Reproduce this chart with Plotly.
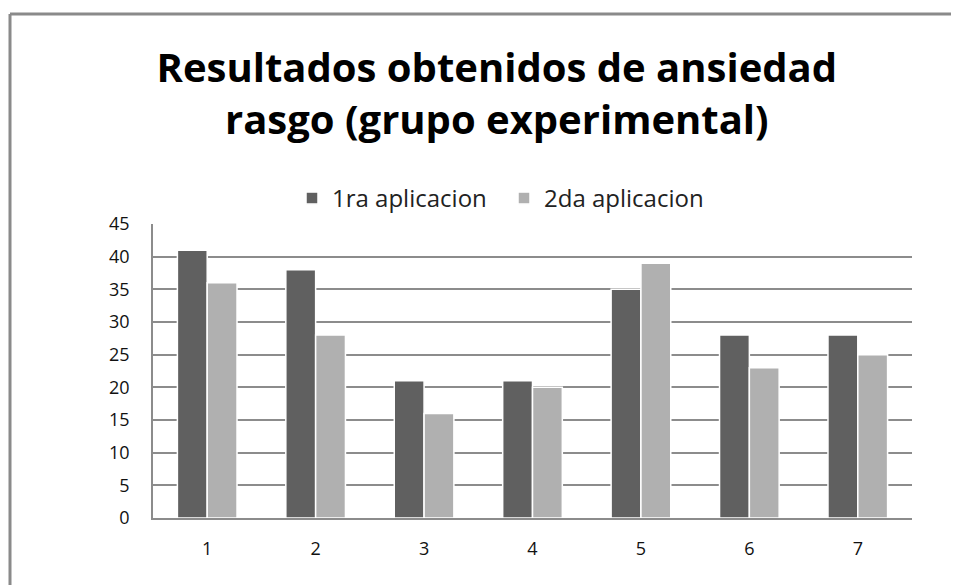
import plotly.graph_objects as go

categories = ["1", "2", "3", "4", "5", "6", "7"]
primera = [41, 38, 21, 21, 35, 28, 28]
segunda = [36, 28, 16, 20, 39, 23, 25]
series_names = ["1ra aplicacion", "2da aplicacion"]
y_ticks = [0, 5, 10, 15, 20, 25, 30, 35, 40, 45]
title_text = "Resultados obtenidos de ansiedad<br>rasgo (grupo experimental)"

# page body has an 8px margin, so the figure is drawn 8px in from the window edge
W, H = 951, 577
ML, MR, MT, MB = 145, 47, 216, 67
FONT = "Open Sans"

fig = go.Figure()
fig.add_trace(go.Bar(x=categories, y=primera, name=series_names[0],
                     marker=dict(color="#606060", line=dict(color="white", width=1.5))))
fig.add_trace(go.Bar(x=categories, y=segunda, name=series_names[1],
                     marker=dict(color="#b0b0b0", line=dict(color="white", width=1.5))))

pw = W - ML - MR
ph = H - MT - MB
x0 = -(ML - 2) / pw
y1 = 1 + (MT - 6) / ph
y0 = -(MB + 5) / ph

fig.update_layout(
    width=W, height=H,
    margin=dict(l=ML, r=MR, t=MT, b=MB, autoexpand=False),
    paper_bgcolor="white", plot_bgcolor="white",
    barmode="group", bargap=0.45, bargroupgap=0.0,
    font=dict(family=FONT, color="#000000", size=18),
    title=dict(text=title_text, x=0.514, xref="container", xanchor="center",
               y=1 - 74 / H, yref="container", yanchor="top",
               font=dict(family=FONT, size=40, color="#000000", weight="bold")),
    legend=dict(orientation="h", x=284 / W, xanchor="left", xref="container",
                y=1 - 168 / H, yanchor="top", yref="container",
                font=dict(family=FONT, size=24, color="#222"), itemwidth=30,
                entrywidth=167, entrywidthmode="pixels",
                traceorder="normal", bgcolor="rgba(0,0,0,0)"),
    xaxis=dict(showgrid=False, showline=True, linecolor="#8c8c8c", linewidth=1.5,
               ticks="", tickfont=dict(size=18, color="#111"), ticklabelstandoff=14),
    yaxis=dict(range=[0, 45], tickvals=y_ticks, showgrid=True, gridcolor="#8c8c8c",
               gridwidth=1.5, showline=True, linecolor="#8c8c8c", linewidth=1.5,
               mirror=False, zeroline=False, ticks="",
               tickfont=dict(size=18, color="#111"), ticklabelstandoff=18),
    shapes=[
        dict(type="line", xref="paper", yref="paper", x0=x0, x1=1 + (MR + 5) / pw,
             y0=y1, y1=y1, line=dict(color="#8a8a8a", width=3)),
        dict(type="line", xref="paper", yref="paper", x0=x0, x1=x0,
             y0=y1, y1=y0, line=dict(color="#8a8a8a", width=3)),
    ],
)

fig.write_html("out.html")
